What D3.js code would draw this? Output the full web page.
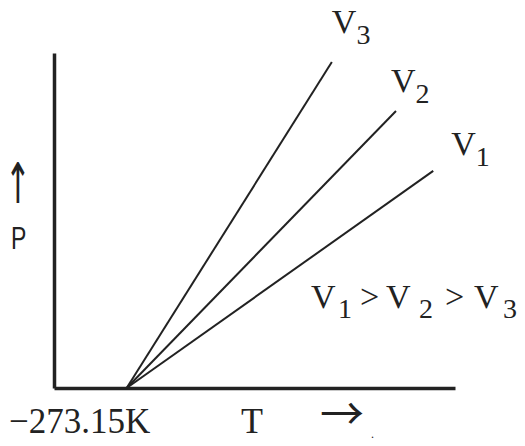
<!DOCTYPE html>
<html>
<head>
<meta charset="utf-8">
<script src="https://cdn.jsdelivr.net/npm/d3@7"></script>
<style>
  body { margin: 0; background: #fff; }
  svg text { font-family: "Liberation Serif", "Times New Roman", serif; fill: #222; }
</style>
</head>
<body>
<svg id="svg0" width="525" height="446"></svg>
<script>
// isochores: P rises linearly with T, all meeting at absolute zero
var absZero = -273.15;
var names = ['V3', 'V2', 'V1'];
var endT = [85, 197, 262];     // T at the top end of each line
var endP = [97.3, 82.7, 64.8]; // P at the top end of each line
var subs = ['3', '2', '1'];

var width = 525;
var height = 446;

var svg0 = d3.select('#svg0').append('g');

var x = d3.scaleLinear().domain([-400, 300]).range([54, 455]);
var y = d3.scaleLinear().domain([0, 100]).range([388, 53]);

// axes, no ticks, just the two lines
svg0.append('g')
    .attr('transform', 'translate(0,' + y(0) + ')')
    .call(d3.axisBottom(x).ticks(0).tickSizeOuter(0))
    .call(function(g){ g.select('.domain').attr('stroke', '#222').attr('stroke-width', 3.5); });

svg0.append('g')
    .attr('transform', 'translate(' + x(-400) + ',0)')
    .call(d3.axisLeft(y).ticks(0).tickSizeOuter(0))
    .call(function(g){ g.select('.domain').attr('stroke', '#222').attr('stroke-width', 3.5); });

var lines = names.map(function(n, i){
    return {name: n, sub: subs[i], T: endT[i], P: endP[i]};
});

svg0.selectAll('line.iso')
    .data(lines)
    .enter()
    .append('line')
    .attr('class', 'iso')
    .attr('x1', x(absZero))
    .attr('y1', y(0))
    .attr('x2', function(d){ return x(d.T); })
    .attr('y2', function(d){ return y(d.P); })
    .attr('stroke', '#222')
    .attr('stroke-width', 2);

// V labels above line ends
var lab = svg0.selectAll('text.vlab')
    .data(lines)
    .enter()
    .append('text')
    .attr('class', 'vlab')
    .attr('x', function(d){ return x(d.T) + [0, -5, 18][lines.indexOf(d)]; })
    .attr('y', function(d){ return y(d.P) - [29, 19, 16][lines.indexOf(d)]; })
    .style('font-size', '34px');
lab.append('tspan').text('V');
lab.append('tspan').attr('dy', 11).style('font-size', '28px').text(function(d){ return d.sub; });

// relation
var rel = svg0.append('text').attr('y', 308).style('font-size', '34px');
rel.append('tspan').attr('x', 311).text('V');
rel.append('tspan').attr('x', 338).attr('dy', 10).style('font-size', '28px').text('1');
rel.append('tspan').attr('x', 360).attr('dy', -10).text('>');
rel.append('tspan').attr('x', 386).text('V');
rel.append('tspan').attr('x', 419).attr('dy', 10).style('font-size', '28px').text('2');
rel.append('tspan').attr('x', 445).attr('dy', -10).text('>');
rel.append('tspan').attr('x', 474).text('V');
rel.append('tspan').attr('x', 503).attr('dy', 10).style('font-size', '28px').text('3');

// axis labels
svg0.append('text').attr('x', 9).attr('y', 433).style('font-size', '35px').text('\u2212273.15K');
svg0.append('text').attr('x', 241).attr('y', 433).style('font-size', '36px').text('T');
svg0.append('text').attr('x', 320).attr('y', 430)
    .style('font-family', '"Noto Sans CJK SC", sans-serif').style('font-size', '44px').text('\u2192');
svg0.append('text').attr('x', 371).attr('y', 438).style('font-size', '12px').text('.');

svg0.append('text').attr('transform', 'translate(11,249) scale(0.72,1)')
    .style('font-family', '"Liberation Sans", Arial, sans-serif').style('font-size', '32px').text('P');
svg0.append('text').attr('transform', 'translate(5,203) scale(0.55,1)')
    .style('font-family', '"DejaVu Sans", sans-serif').style('font-size', '56px').text('\u2191');
</script>
</body>
</html>
